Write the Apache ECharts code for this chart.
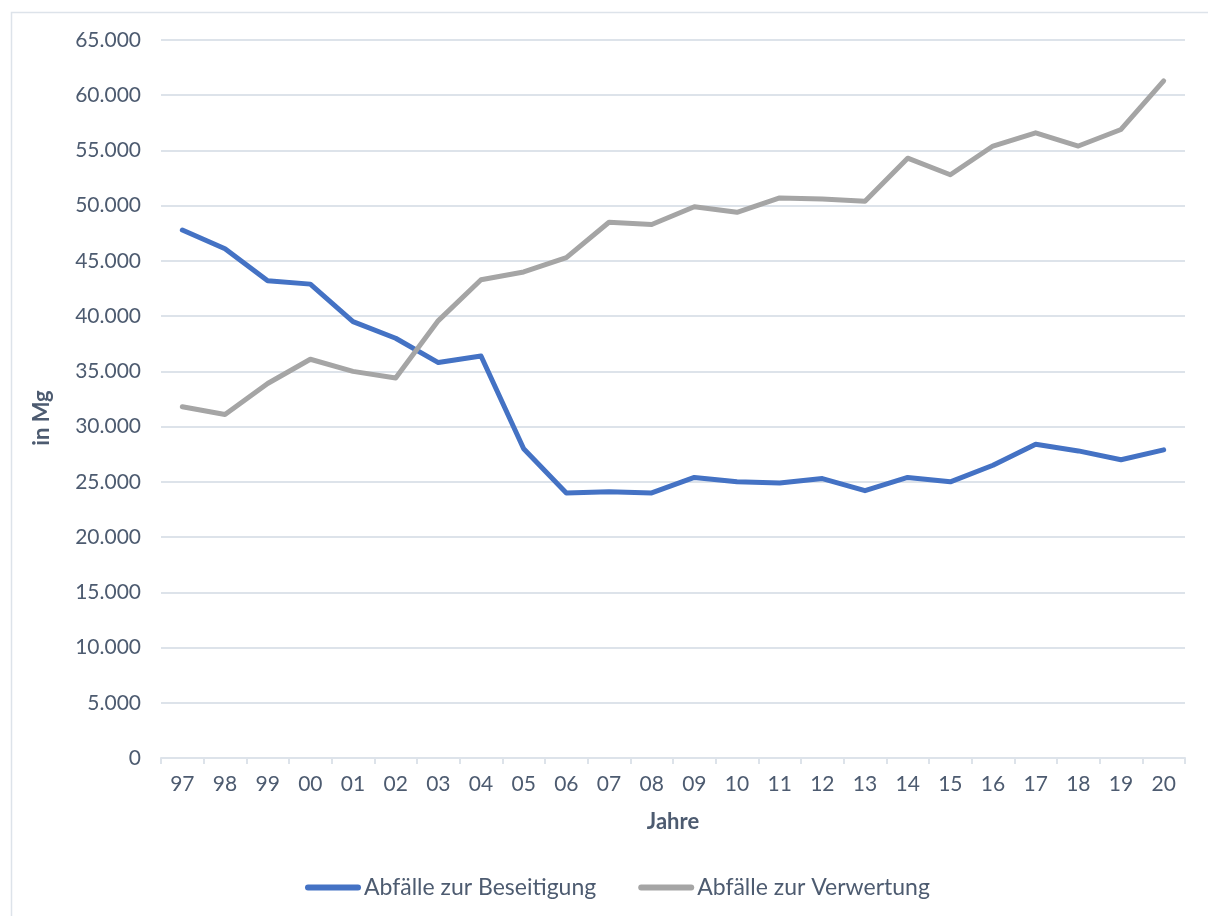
<!DOCTYPE html>
<html>
<head>
<meta charset="utf-8">
<script src="https://cdn.jsdelivr.net/npm/echarts@6/dist/echarts.min.js"></script>
<style>
  html, body { margin: 0; padding: 0; background: #fff; }
  #main { width: 1208px; height: 916px; }
</style>
</head>
<body>
<div id="main"></div>
<script>
var years = ["97","98","99","00","01","02","03","04","05","06","07","08","09","10","11","12","13","14","15","16","17","18","19","20"];
var beseitigung = [47800, 46100, 43200, 42900, 39500, 38000, 35800, 36400, 28000, 24000, 24100, 24000,
	25400, 25000, 24900, 25300, 24200, 25400, 25000, 26500, 28400, 27800, 27000, 27900];
var verwertung = [31800, 31100, 33900, 36100, 35000, 34400, 39600, 43300, 44000, 45300, 48500, 48300,
	49900, 49400, 50700, 50600, 50400, 54300, 52800, 55400, 56600, 55400, 56900, 61300];
var seriesNames = ["Abfälle zur Beseitigung", "Abfälle zur Verwertung"];
var colors = ["#4472C4", "#A5A5A5"];

var textColor = "#4d5b70";
var fontName = "Lato";
// thick line with rounded ends for the legend
var legendIcon = "path://M3,0 H53 A3,3 0 0 1 53,6 H3 A3,3 0 0 1 3,0 Z";

var myChart = echarts.init(document.getElementById("main"));

function fmt(v) {
	// German thousands separator
	return String(v).replace(/\B(?=(\d{3})+(?!\d))/g, ".");
}

var option = {
	animation: false,
	backgroundColor: "#fff",
	color: colors,
	textStyle: { fontFamily: fontName, color: textColor },
	graphic: [{
		type: "rect",
		left: 9, top: 10,
		shape: { width: 1240, height: 940 },
		style: { fill: null, stroke: "#dde3ea", lineWidth: 1.5 },
		silent: true, z: -1
	}],
	grid: { left: 161, right: 23, top: 40, bottom: 158 },
	legend: {
		data: seriesNames,
		top: 871,
		left: 300,
		icon: legendIcon,
		itemWidth: 56,
		itemHeight: 6,
		itemGap: 42,
		textStyle: { fontFamily: fontName, fontSize: 23, color: textColor, padding: [0, 0, 0, -2] }
	},
	xAxis: {
		type: "category",
		data: years,
		boundaryGap: true,
		name: "Jahre",
		nameLocation: "middle",
		nameGap: 53,
		nameTextStyle: { fontFamily: fontName, fontSize: 22, fontWeight: "bold", color: textColor },
		axisLine: { lineStyle: { color: "#dde3ea", width: 2 } },
		axisTick: { show: true, length: 6, lineStyle: { color: "#dde3ea", width: 2 } },
		axisLabel: { margin: 16, fontSize: 21, color: textColor, fontFamily: fontName }
	},
	yAxis: {
		type: "value",
		min: 0, max: 65000, interval: 5000,
		name: "in Mg",
		nameLocation: "middle",
		nameGap: 108,
		nameTextStyle: { fontFamily: fontName, fontSize: 22, fontWeight: "bold", color: textColor, padding: [0, 38, 0, 0] },
		axisLine: { show: false },
		axisTick: { show: false },
		axisLabel: { margin: 20, fontSize: 21, color: textColor, fontFamily: fontName, formatter: fmt },
		splitLine: { lineStyle: { color: "#dde3ea", width: 2 } }
	},
	series: [
		{
			name: seriesNames[0],
			type: "line",
			data: beseitigung,
			showSymbol: false,
			symbol: "none",
			lineStyle: { width: 5, color: colors[0], cap: "round", join: "round" }
		},
		{
			name: seriesNames[1],
			type: "line",
			data: verwertung,
			showSymbol: false,
			symbol: "none",
			lineStyle: { width: 5, color: colors[1], cap: "round", join: "round" }
		}
	]
};

myChart.setOption(option);
</script>
</body>
</html>
